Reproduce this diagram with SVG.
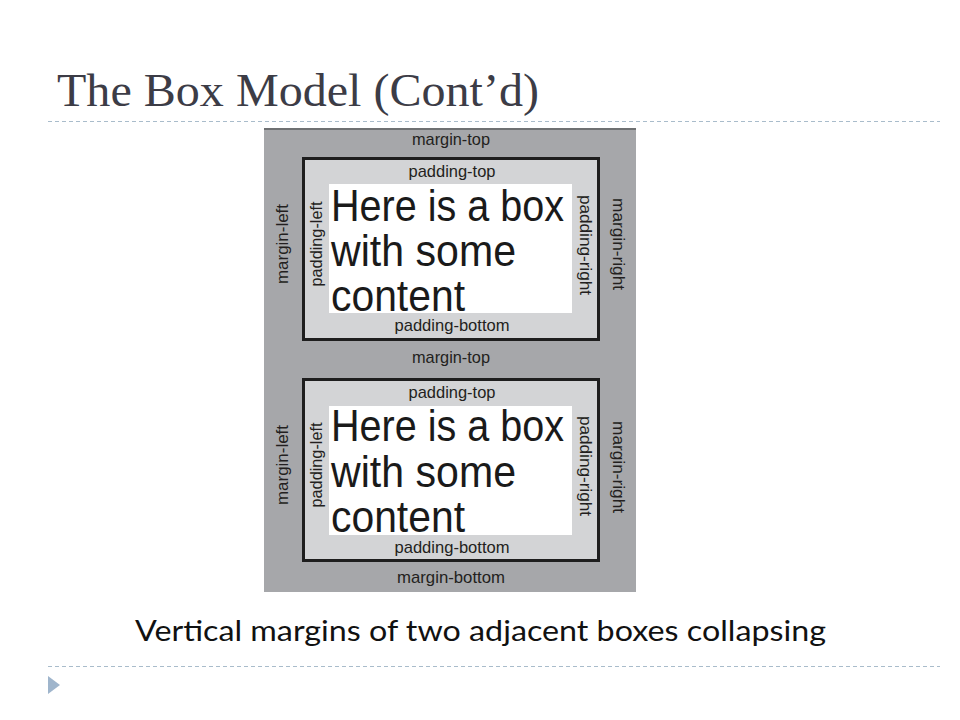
<svg xmlns="http://www.w3.org/2000/svg" width="960" height="720" viewBox="0 0 960 720">
<style>
.dash{stroke:#a9bccb;stroke-width:1;stroke-dasharray:4 3;fill:none}
.margin{fill:#a6a7aa}
.pad{fill:#d3d4d6;stroke:#1e1e1e;stroke-width:3}
.content{fill:#ffffff}
.lbl{font-family:"Liberation Sans Narrow","Liberation Sans",Arial,sans-serif;font-size:17px;fill:#231f20;text-anchor:middle}
.big{font-family:"Liberation Sans Narrow","Liberation Sans",Arial,sans-serif;font-size:44px;fill:#1a1a1a}
</style>
<rect width="960" height="720" fill="#ffffff"/>
<g id="title">
<text x="57" y="106" font-family="'Liberation Serif','Times New Roman',serif" font-size="46" fill="#3c3c46" textLength="482" lengthAdjust="spacingAndGlyphs">The Box Model (Cont’d)</text>
</g>
<line class="dash" x1="48" y1="121.5" x2="940" y2="121.5"/>
<g id="margin-area">
<rect class="margin" x="264" y="128" width="372" height="464"/>
<rect x="264" y="128" width="372" height="2" fill="#6f7173"/>
<text class="lbl" x="451" y="145" textLength="78" lengthAdjust="spacingAndGlyphs">margin-top</text>
<text class="lbl" x="451" y="363" textLength="78" lengthAdjust="spacingAndGlyphs">margin-top</text>
<text class="lbl" x="451" y="583" textLength="108" lengthAdjust="spacingAndGlyphs">margin-bottom</text>
</g>
<g id="box1">
<rect class="pad" x="303.5" y="158.5" width="295" height="181"/>
<rect class="content" x="329" y="184" width="243" height="129"/>
<text class="lbl" x="452" y="177" textLength="87" lengthAdjust="spacingAndGlyphs">padding-top</text>
<text class="lbl" x="452" y="331" textLength="115" lengthAdjust="spacingAndGlyphs">padding-bottom</text>
<text class="lbl" transform="translate(288 244) rotate(-90)" x="0" y="0" textLength="80" lengthAdjust="spacingAndGlyphs">margin-left</text>
<text class="lbl" transform="translate(322 244) rotate(-90)" x="0" y="0" textLength="85" lengthAdjust="spacingAndGlyphs">padding-left</text>
<text class="lbl" transform="translate(580 245) rotate(90)" x="0" y="0" textLength="100" lengthAdjust="spacingAndGlyphs">padding-right</text>
<text class="lbl" transform="translate(613 244) rotate(90)" x="0" y="0" textLength="92" lengthAdjust="spacingAndGlyphs">margin-right</text>
<text class="big" x="331" y="221" textLength="233" lengthAdjust="spacingAndGlyphs">Here is a box</text>
<text class="big" x="331" y="266" textLength="185" lengthAdjust="spacingAndGlyphs">with some</text>
<text class="big" x="331" y="311" textLength="134" lengthAdjust="spacingAndGlyphs">content</text>
</g>
<g id="box2">
<rect class="pad" x="303.5" y="379.5" width="295" height="181"/>
<rect class="content" x="329" y="406" width="243" height="129"/>
<text class="lbl" x="452" y="398" textLength="87" lengthAdjust="spacingAndGlyphs">padding-top</text>
<text class="lbl" x="452" y="553" textLength="115" lengthAdjust="spacingAndGlyphs">padding-bottom</text>
<text class="lbl" transform="translate(288 465) rotate(-90)" x="0" y="0" textLength="80" lengthAdjust="spacingAndGlyphs">margin-left</text>
<text class="lbl" transform="translate(322 465) rotate(-90)" x="0" y="0" textLength="85" lengthAdjust="spacingAndGlyphs">padding-left</text>
<text class="lbl" transform="translate(580 466) rotate(90)" x="0" y="0" textLength="100" lengthAdjust="spacingAndGlyphs">padding-right</text>
<text class="lbl" transform="translate(613 467) rotate(90)" x="0" y="0" textLength="92" lengthAdjust="spacingAndGlyphs">margin-right</text>
<text class="big" x="331" y="441" textLength="233" lengthAdjust="spacingAndGlyphs">Here is a box</text>
<text class="big" x="331" y="487" textLength="185" lengthAdjust="spacingAndGlyphs">with some</text>
<text class="big" x="331" y="532" textLength="134" lengthAdjust="spacingAndGlyphs">content</text>
</g>
<g id="caption">
<text x="135" y="641" font-family="Lato,'Open Sans',sans-serif" font-size="29" fill="#111111" textLength="691" lengthAdjust="spacingAndGlyphs">Vertical margins of two adjacent boxes collapsing</text>
</g>
<line class="dash" x1="48" y1="666.5" x2="940" y2="666.5"/>
<polygon points="48,676 60,685 48,694" fill="#9fb5cc"/>
</svg>
